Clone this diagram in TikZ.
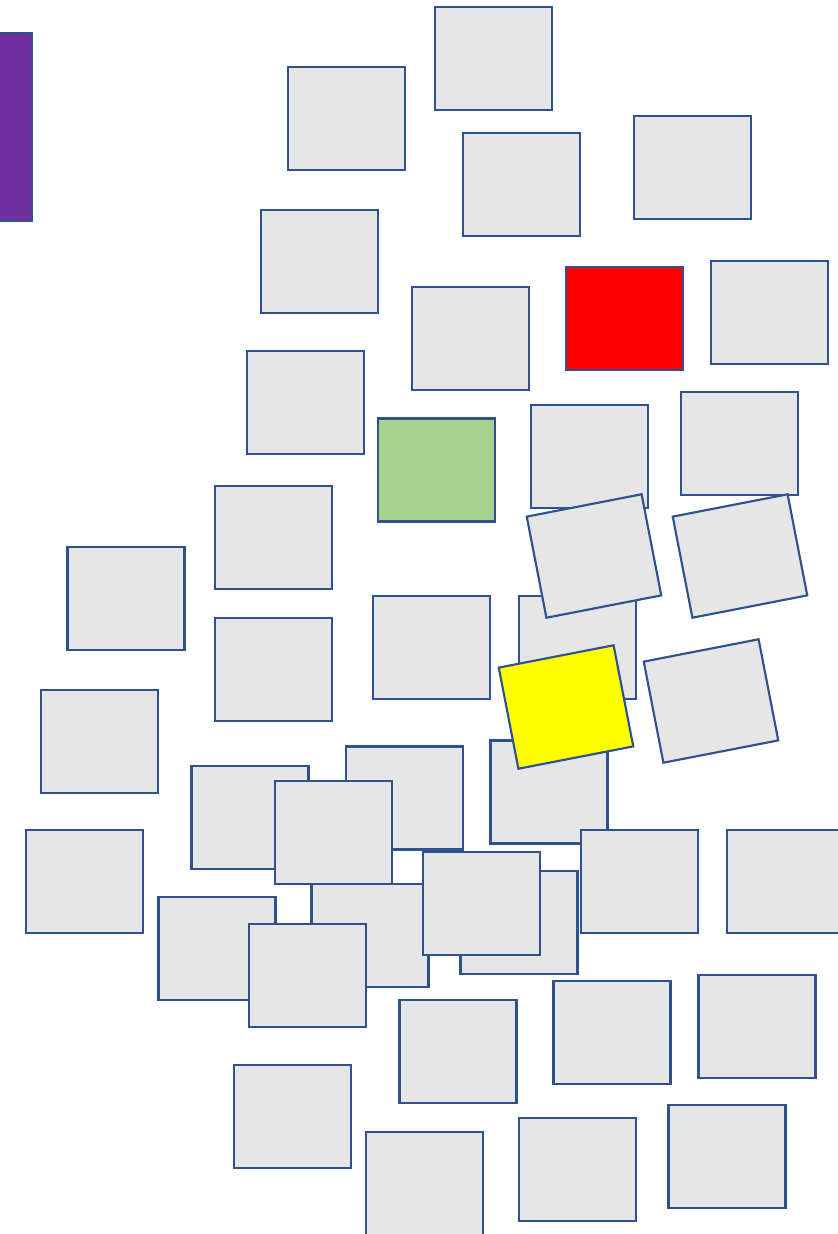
\documentclass[tikz,border=0pt]{standalone}
\begin{document}
\begin{tikzpicture}[x=0.75pt,y=-0.75pt,
  box/.style={draw=bordercol, line width=1.6pt, fill=grayfill, rectangle, inner sep=0pt,
    minimum width=87.75pt, minimum height=77.25pt},
  tilt/.style={rotate=11}]
\definecolor{bordercol}{HTML}{2F528F}
\definecolor{grayfill}{HTML}{E6E6E6}
\definecolor{greenfill}{HTML}{A9D18E}
\definecolor{purplefill}{HTML}{7030A0}
\definecolor{redfill}{HTML}{FF0000}
\definecolor{yellowfill}{HTML}{FFFF00}
\useasboundingbox (0,0) rectangle (838,1234);
\clip (0,0) rectangle (838,1234);
\node[box] (b1) at (493.5,58.5) {};
\node[box] (b2) at (346.5,118.5) {};
\node[box] (b3) at (521.5,184.5) {};
\node[box] (b4) at (692.5,167.5) {};
\node[box] (b5) at (319.5,261.5) {};
\node[box, fill=redfill] (b6) at (624.5,318.5) {};
\node[box] (b7) at (769.5,312.5) {};
\node[box] (b8) at (470.5,338.5) {};
\node[box] (b9) at (305.5,402.5) {};
\node[box, fill=greenfill] (b10) at (436.5,470) {};
\node[box] (b11) at (589.5,456.5) {};
\node[box] (b12) at (739.5,443.5) {};
\node[box] (b19) at (577.5,647.5) {};
\node[box, tilt] (b13) at (594,556) {};
\node[box, tilt] (b14) at (740,556) {};
\node[box] (b15) at (273.5,537.5) {};
\node[box] (b16) at (126,598.5) {};
\node[box] (b17) at (273.5,669.5) {};
\node[box] (b18) at (431.5,647.5) {};
\node[box] (b25) at (549,792) {};
\node[box, tilt, fill=yellowfill] (b20) at (566,707) {};
\node[box, tilt] (b21) at (711,701) {};
\node[box] (b22) at (99.5,741.5) {};
\node[box] (b23) at (250,817.5) {};
\node[box] (b24) at (404.5,798) {};
\node[box] (b30) at (370,935.5) {};
\node[box] (b26) at (333.5,832.5) {};
\node[box] (b27) at (84.5,881.5) {};
\node[box] (b28) at (639.5,881.5) {};
\node[box] (b29) at (785.5,881.5) {};
\node[box] (b31) at (519,922.5) {};
\node[box] (b32) at (481.5,903.5) {};
\node[box] (b33) at (217,948.5) {};
\node[box] (b34) at (307.5,975.5) {};
\node[box] (b35) at (458,1051.5) {};
\node[box] (b36) at (612,1032.5) {};
\node[box] (b37) at (757,1026.5) {};
\node[box] (b38) at (292.5,1116.5) {};
\node[box] (b39) at (424.5,1183.5) {};
\node[box] (b40) at (577.5,1169.5) {};
\node[box] (b41) at (727,1156.5) {};
\node[box, fill=purplefill, minimum height=141pt] (b42) at (-26.5,127) {};
\end{tikzpicture}
\end{document}
